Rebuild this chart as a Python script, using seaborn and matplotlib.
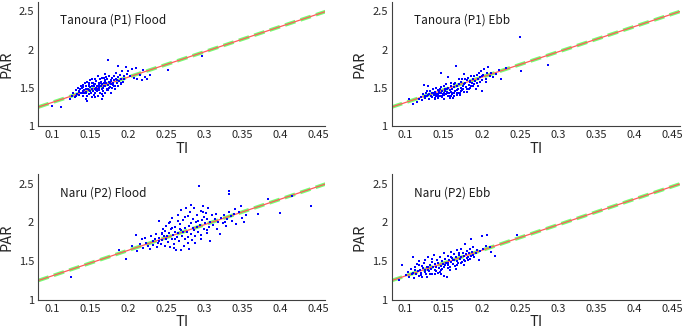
import numpy as np
import seaborn as sns
import matplotlib.pyplot as plt

# Tanoura (P1) Flood
tf_ti = [0.100, 0.112, 0.123, 0.126, 0.128, 0.130, 0.131, 0.133, 0.134, 0.135,
         0.136, 0.137, 0.138, 0.139, 0.140, 0.140, 0.141, 0.142, 0.143, 0.144,
         0.144, 0.145, 0.146, 0.146, 0.147, 0.148, 0.148, 0.149, 0.150, 0.150,
         0.151, 0.152, 0.152, 0.153, 0.154, 0.154, 0.155, 0.155, 0.156, 0.156,
         0.157, 0.157, 0.158, 0.158, 0.159, 0.159, 0.160, 0.160, 0.161, 0.161,
         0.162, 0.162, 0.163, 0.163, 0.164, 0.164, 0.165, 0.165, 0.166, 0.166,
         0.167, 0.167, 0.168, 0.168, 0.169, 0.169, 0.170, 0.170, 0.171, 0.172,
         0.172, 0.173, 0.174, 0.174, 0.175, 0.175, 0.176, 0.177, 0.177, 0.178,
         0.179, 0.179, 0.180, 0.181, 0.181, 0.182, 0.183, 0.184, 0.184, 0.185,
         0.186, 0.187, 0.187, 0.188, 0.189, 0.190, 0.191, 0.192, 0.193, 0.194,
         0.195, 0.197, 0.198, 0.200, 0.203, 0.205, 0.207, 0.210, 0.212, 0.215,
         0.218, 0.220, 0.222, 0.225, 0.228, 0.252, 0.297, 0.140, 0.150, 0.160,
         0.145, 0.155, 0.165, 0.170, 0.135, 0.175, 0.180, 0.148, 0.158, 0.168,
         0.132, 0.138, 0.142, 0.152, 0.162, 0.172, 0.178, 0.185, 0.190, 0.146,
         0.153, 0.163, 0.157, 0.149, 0.171, 0.176, 0.183, 0.139, 0.144, 0.167]
tf_par = [1.27, 1.25, 1.36, 1.40, 1.44, 1.38, 1.47, 1.42, 1.50, 1.45,
          1.41, 1.48, 1.53, 1.44, 1.39, 1.46, 1.51, 1.43, 1.56, 1.48,
          1.52, 1.45, 1.33, 1.58, 1.49, 1.42, 1.55, 1.47, 1.51, 1.60,
          1.44, 1.53, 1.38, 1.49, 1.57, 1.46, 1.52, 1.41, 1.62, 1.48,
          1.55, 1.43, 1.50, 1.59, 1.46, 1.53, 1.65, 1.40, 1.51, 1.57,
          1.47, 1.54, 1.61, 1.44, 1.52, 1.58, 1.49, 1.36, 1.55, 1.63,
          1.50, 1.46, 1.57, 1.53, 1.60, 1.43, 1.52, 1.68, 1.56, 1.49,
          1.62, 1.54, 1.86, 1.47, 1.58, 1.65, 1.51, 1.60, 1.44, 1.55,
          1.63, 1.50, 1.57, 1.66, 1.53, 1.60, 1.48, 1.62, 1.70, 1.56,
          1.64, 1.78, 1.52, 1.59, 1.67, 1.55, 1.62, 1.72, 1.58, 1.65,
          1.61, 1.77, 1.68, 1.72, 1.66, 1.74, 1.63, 1.76, 1.62, 1.67,
          1.60, 1.73, 1.64, 1.61, 1.67, 1.73, 1.91, 1.54, 1.46, 1.48,
          1.43, 1.55, 1.42, 1.58, 1.46, 1.50, 1.54, 1.57, 1.47, 1.63,
          1.40, 1.43, 1.47, 1.56, 1.50, 1.47, 1.59, 1.60, 1.57, 1.39,
          1.61, 1.56, 1.38, 1.53, 1.64, 1.57, 1.52, 1.50, 1.36, 1.40]

# Tanoura (P1) Ebb
te_ti = [0.105, 0.110, 0.115, 0.118, 0.120, 0.122, 0.123, 0.124, 0.125, 0.126,
         0.127, 0.128, 0.129, 0.130, 0.131, 0.132, 0.133, 0.134, 0.135, 0.136,
         0.137, 0.138, 0.139, 0.140, 0.140, 0.141, 0.142, 0.143, 0.144, 0.145,
         0.145, 0.146, 0.147, 0.148, 0.148, 0.149, 0.150, 0.150, 0.151, 0.152,
         0.153, 0.153, 0.154, 0.155, 0.156, 0.156, 0.157, 0.158, 0.159, 0.160,
         0.160, 0.161, 0.162, 0.163, 0.164, 0.165, 0.165, 0.166, 0.167, 0.168,
         0.169, 0.170, 0.170, 0.171, 0.172, 0.173, 0.174, 0.175, 0.176, 0.177,
         0.178, 0.179, 0.180, 0.181, 0.182, 0.183, 0.184, 0.185, 0.186, 0.187,
         0.188, 0.189, 0.190, 0.191, 0.192, 0.193, 0.194, 0.195, 0.196, 0.197,
         0.198, 0.199, 0.200, 0.200, 0.202, 0.203, 0.205, 0.207, 0.208, 0.210,
         0.212, 0.215, 0.218, 0.222, 0.225, 0.232, 0.250, 0.251, 0.287, 0.136,
         0.142, 0.146, 0.152, 0.158, 0.163, 0.168, 0.174, 0.180, 0.186, 0.131,
         0.139, 0.144, 0.149, 0.154, 0.159, 0.164, 0.169, 0.175, 0.185, 0.190,
         0.128, 0.134, 0.147, 0.157, 0.161, 0.167, 0.172, 0.178, 0.195, 0.205,
         0.150, 0.155, 0.143, 0.138, 0.162, 0.171, 0.183, 0.188, 0.176, 0.200]
te_par = [1.35, 1.29, 1.32, 1.36, 1.38, 1.34, 1.42, 1.54, 1.40, 1.37,
          1.44, 1.39, 1.52, 1.41, 1.36, 1.46, 1.40, 1.43, 1.38, 1.48,
          1.41, 1.35, 1.45, 1.39, 1.50, 1.42, 1.47, 1.37, 1.44, 1.40,
          1.49, 1.43, 1.69, 1.38, 1.46, 1.41, 1.52, 1.44, 1.36, 1.48,
          1.42, 1.55, 1.45, 1.39, 1.50, 1.64, 1.43, 1.47, 1.40, 1.53,
          1.45, 1.49, 1.37, 1.51, 1.43, 1.57, 1.46, 1.78, 1.41, 1.52,
          1.48, 1.55, 1.62, 1.44, 1.50, 1.58, 1.47, 1.53, 1.68, 1.45,
          1.56, 1.51, 1.60, 1.48, 1.63, 1.54, 1.58, 1.50, 1.66, 1.57,
          1.61, 1.53, 1.65, 1.59, 1.48, 1.67, 1.56, 1.62, 1.70, 1.58,
          1.64, 1.72, 1.46, 1.60, 1.67, 1.74, 1.62, 1.69, 1.77, 1.66,
          1.70, 1.64, 1.68, 1.73, 1.62, 1.76, 2.17, 1.72, 1.80, 1.44,
          1.39, 1.51, 1.46, 1.37, 1.55, 1.44, 1.61, 1.45, 1.53, 1.42,
          1.37, 1.46, 1.42, 1.48, 1.56, 1.40, 1.43, 1.49, 1.59, 1.55,
          1.46, 1.44, 1.40, 1.39, 1.42, 1.47, 1.46, 1.62, 1.53, 1.58,
          1.41, 1.44, 1.41, 1.42, 1.44, 1.41, 1.48, 1.52, 1.55, 1.65]

# Naru (P2) Flood
nf_ti = [0.125, 0.188, 0.197, 0.205, 0.210, 0.212, 0.215, 0.218, 0.220, 0.222,
         0.224, 0.226, 0.228, 0.230, 0.232, 0.233, 0.235, 0.236, 0.238, 0.239,
         0.240, 0.241, 0.243, 0.244, 0.245, 0.246, 0.247, 0.248, 0.249, 0.250,
         0.251, 0.252, 0.253, 0.254, 0.255, 0.256, 0.257, 0.258, 0.259, 0.260,
         0.261, 0.262, 0.263, 0.264, 0.265, 0.266, 0.267, 0.268, 0.269, 0.270,
         0.271, 0.272, 0.273, 0.274, 0.275, 0.276, 0.277, 0.278, 0.279, 0.280,
         0.281, 0.282, 0.283, 0.284, 0.285, 0.286, 0.287, 0.288, 0.289, 0.290,
         0.291, 0.292, 0.293, 0.294, 0.295, 0.296, 0.297, 0.298, 0.299, 0.300,
         0.301, 0.302, 0.303, 0.304, 0.305, 0.306, 0.307, 0.308, 0.310, 0.312,
         0.314, 0.316, 0.318, 0.320, 0.322, 0.324, 0.326, 0.328, 0.330, 0.332,
         0.333, 0.333, 0.335, 0.337, 0.339, 0.340, 0.342, 0.345, 0.348, 0.350,
         0.352, 0.355, 0.370, 0.383, 0.400, 0.415, 0.440, 0.260, 0.270, 0.280,
         0.255, 0.265, 0.275, 0.285, 0.295, 0.262, 0.278, 0.288, 0.298, 0.268,
         0.245, 0.250, 0.258, 0.272, 0.283, 0.292, 0.304, 0.315, 0.327, 0.240]
nf_par = [1.29, 1.65, 1.53, 1.70, 1.84, 1.63, 1.72, 1.78, 1.67, 1.80,
          1.74, 1.69, 1.66, 1.82, 1.76, 1.71, 1.79, 1.85, 1.68, 1.74,
          1.80, 2.02, 1.72, 1.86, 1.77, 1.92, 1.83, 1.70, 1.89, 1.95,
          1.82, 1.75, 1.99, 1.86, 1.68, 1.91, 1.78, 2.06, 1.84, 1.72,
          1.88, 1.94, 1.65, 1.81, 2.10, 1.86, 1.76, 1.98, 1.90, 2.16,
          1.83, 2.03, 1.70, 1.93, 1.79, 2.19, 1.87, 2.08, 1.74, 1.96,
          2.13, 1.85, 1.99, 1.77, 2.05, 2.18, 1.90, 1.82, 2.01, 1.94,
          2.10, 1.88, 2.47, 1.97, 2.15, 1.79, 2.03, 2.21, 1.92, 2.07,
          1.99, 2.12, 1.86, 2.05, 2.18, 1.94, 2.01, 1.76, 2.09, 1.97,
          2.04, 1.92, 2.00, 1.85, 2.06, 1.99, 2.10, 1.95, 2.05, 2.13,
          2.41, 2.37, 2.08, 2.02, 2.11, 2.17, 1.98, 2.14, 2.21, 2.06,
          2.00, 2.10, 2.11, 2.30, 2.12, 2.34, 2.21, 1.67, 1.64, 1.66,
          2.00, 2.02, 2.07, 1.93, 1.84, 1.78, 1.81, 1.73, 2.13, 1.92,
          1.85, 1.78, 1.93, 1.88, 2.22, 2.02, 1.90, 2.11, 2.01, 1.76]

# Naru (P2) Ebb
ne_ti = [0.092, 0.095, 0.100, 0.103, 0.105, 0.107, 0.108, 0.110, 0.111, 0.112,
         0.113, 0.114, 0.115, 0.116, 0.117, 0.118, 0.119, 0.120, 0.121, 0.122,
         0.123, 0.124, 0.125, 0.126, 0.127, 0.128, 0.129, 0.130, 0.131, 0.132,
         0.133, 0.134, 0.135, 0.136, 0.137, 0.138, 0.139, 0.140, 0.141, 0.142,
         0.143, 0.144, 0.145, 0.146, 0.147, 0.148, 0.149, 0.150, 0.151, 0.152,
         0.153, 0.154, 0.155, 0.156, 0.157, 0.158, 0.159, 0.160, 0.161, 0.162,
         0.163, 0.164, 0.165, 0.166, 0.167, 0.168, 0.169, 0.170, 0.171, 0.172,
         0.173, 0.174, 0.175, 0.176, 0.177, 0.178, 0.179, 0.180, 0.181, 0.182,
         0.183, 0.184, 0.185, 0.186, 0.187, 0.188, 0.189, 0.190, 0.192, 0.194,
         0.196, 0.198, 0.200, 0.202, 0.205, 0.207, 0.210, 0.212, 0.217, 0.246,
         0.118, 0.128, 0.138, 0.148, 0.158, 0.168, 0.178, 0.135, 0.145, 0.155,
         0.125, 0.132, 0.142, 0.152, 0.162, 0.172, 0.182, 0.140, 0.150, 0.160,
         0.110, 0.120, 0.130, 0.146, 0.156, 0.166, 0.176, 0.186, 0.170, 0.150]
ne_par = [1.26, 1.45, 1.32, 1.36, 1.30, 1.40, 1.34, 1.55, 1.28, 1.38,
          1.42, 1.33, 1.46, 1.37, 1.31, 1.50, 1.39, 1.35, 1.44, 1.29,
          1.41, 1.48, 1.36, 1.52, 1.33, 1.43, 1.39, 1.56, 1.37, 1.45,
          1.40, 1.34, 1.49, 1.43, 1.58, 1.38, 1.46, 1.42, 1.52, 1.35,
          1.47, 1.41, 1.55, 1.44, 1.38, 1.50, 1.46, 1.60, 1.43, 1.53,
          1.48, 1.30, 1.45, 1.57, 1.51, 1.42, 1.62, 1.49, 1.54, 1.46,
          1.59, 1.52, 1.44, 1.56, 1.64, 1.50, 1.47, 1.58, 1.53, 1.66,
          1.55, 1.49, 1.61, 1.57, 1.52, 1.72, 1.59, 1.54, 1.63, 1.56,
          1.60, 1.66, 1.53, 1.78, 1.62, 1.58, 1.68, 1.56, 1.61, 1.65,
          1.52, 1.63, 1.82, 1.66, 1.70, 1.84, 1.68, 1.62, 1.57, 1.84,
          1.45, 1.30, 1.33, 1.40, 1.38, 1.45, 1.50, 1.53, 1.36, 1.41,
          1.39, 1.34, 1.48, 1.45, 1.51, 1.47, 1.52, 1.37, 1.42, 1.55,
          1.35, 1.32, 1.42, 1.34, 1.48, 1.40, 1.45, 1.57, 1.60, 1.31]

titles = ["Tanoura (P1) Flood", "Tanoura (P1) Ebb", "Naru (P2) Flood", "Naru (P2) Ebb"]
fit_intercept = 0.98
fit_slope = 3.30
x_ticks = [0.1, 0.15, 0.2, 0.25, 0.3, 0.35, 0.4, 0.45]
x_labels = ["0.1", "0.15", "0.2", "0.25", "0.3", "0.35", "0.4", "0.45"]
y_ticks = [1, 1.5, 2, 2.5]
y_labels = ["1", "1.5", "2", "2.5"]

sns.set_style("white")
plt.rcParams['font.family'] = ['Noto Sans CJK JP', 'DejaVu Sans']

fig = plt.figure(figsize=(6.85, 3.34), dpi=100)
positions = [[0.056, 0.622, 0.419, 0.372],
             [0.572, 0.622, 0.420, 0.372],
             [0.056, 0.102, 0.419, 0.376],
             [0.572, 0.102, 0.420, 0.376]]
series = [(tf_ti, tf_par), (te_ti, te_par), (nf_ti, nf_par), (ne_ti, ne_par)]

xlim = (0.082, 0.459)
line_x = np.array(xlim)
line_y = fit_intercept + fit_slope * line_x

for pos, (ti, par), title in zip(positions, series, titles):
    ax = fig.add_axes(pos)
    # two fitted lines: green dashed under a thin red solid one
    sns.lineplot(x=line_x, y=line_y, ax=ax, color=(0.45, 1.0, 0.45),
                 lw=2.6, dashes=False, linestyle=(0, (3, 1.5)))
    sns.lineplot(x=line_x, y=line_y, ax=ax, color="#ff5a5a", lw=0.9)
    sns.scatterplot(x=ti, y=par, ax=ax, color="blue", marker="s", s=3.5,
                    linewidth=0, zorder=3)
    ax.set_xlim(*xlim)
    ax.set_ylim(1, 2.62)
    ax.set_xticks(x_ticks)
    ax.set_xticklabels(x_labels)
    ax.set_yticks(y_ticks)
    ax.set_yticklabels(y_labels)
    ax.tick_params(direction="in", length=2.5, width=0.6, labelsize=8,
                   colors="#262626", pad=3)
    for s in ["top", "right"]:
        ax.spines[s].set_visible(False)
    for s in ["left", "bottom"]:
        ax.spines[s].set_color("#404040")
        ax.spines[s].set_linewidth(0.8)
    ax.set_xlabel("TI", fontsize=10.5, color="#262626", labelpad=1)
    ax.set_ylabel("PAR", fontsize=10.5, color="#262626", labelpad=4)
    ax.text(0.077, 0.855, title, transform=ax.transAxes, fontsize=8.5,
            color="#1a1a1a", va="center", ha="left")

fig.savefig("out.png", dpi=100)
